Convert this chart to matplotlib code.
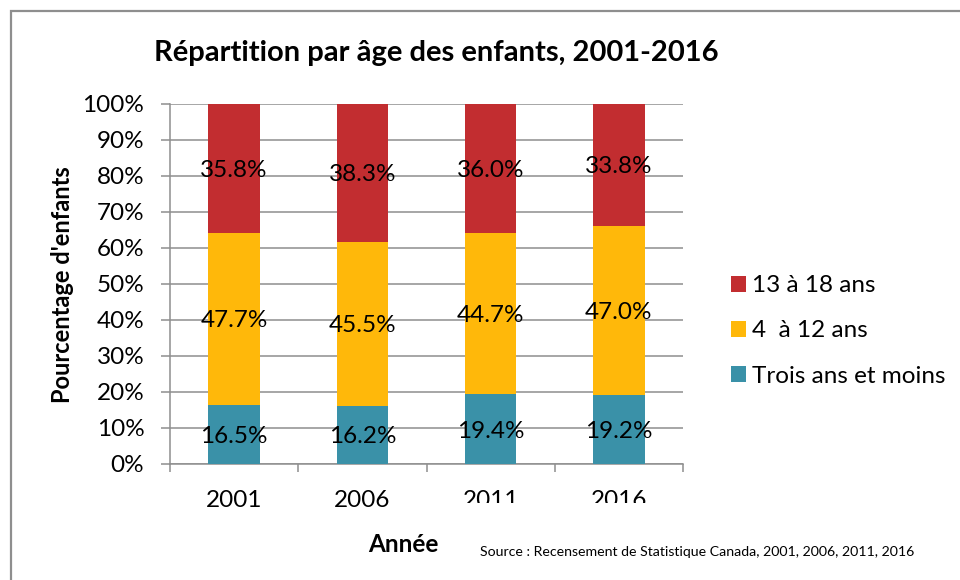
import matplotlib.pyplot as plt
from matplotlib.patches import Rectangle
from matplotlib.transforms import Bbox
import numpy as np

# Données
annees = ['2001', '2006', '2011', '2016']
trois_ans_moins = [16.5, 16.2, 19.4, 19.2]
quatre_douze = [47.7, 45.5, 44.7, 47.0]
treize_dixhuit = [35.8, 38.3, 36.0, 33.8]
ticks_y = [0, 10, 20, 30, 40, 50, 60, 70, 80, 90, 100]

couleurs = {'bleu': '#3A91A8', 'jaune': '#FFB80A', 'rouge': '#C22D30'}
gris = '#8E8E8E'

plt.rcParams['font.family'] = ['Lato', 'DejaVu Sans']

fig = plt.figure(figsize=(9.6, 5.8), dpi=100)
ax = fig.add_axes([170 / 960, 1 - 464 / 580, 513 / 960, 360 / 580])

x = np.arange(len(annees))
largeur = 0.4
bas1 = np.array(trois_ans_moins)
bas2 = bas1 + np.array(quatre_douze)

b1 = ax.bar(x, trois_ans_moins, largeur, color=couleurs['bleu'], zorder=3,
            label='Trois ans et moins')
b2 = ax.bar(x, quatre_douze, largeur, bottom=bas1, color=couleurs['jaune'],
            zorder=3, label='4  à 12 ans')
b3 = ax.bar(x, treize_dixhuit, largeur, bottom=bas2, color=couleurs['rouge'],
            zorder=3, label='13 à 18 ans')

# étiquettes de données au milieu de chaque segment
for bars in (b1, b2, b3):
    for rect in bars:
        h = rect.get_height()
        ax.text(rect.get_x() + rect.get_width() / 2, rect.get_y() + h / 2,
                f'{h:.1f}%', ha='center', va='center_baseline', fontsize=17.5,
                color='black', zorder=4)

ax.set_xlim(-0.5, len(annees) - 0.5)
ax.set_ylim(0, 100)
ax.set_yticks(ticks_y)
ax.set_yticklabels([f'{t}%' for t in ticks_y], fontsize=17.5)
ax.tick_params(axis='y', length=6.5, width=1.1, color=gris, pad=12)

ax.set_xticks(x)
ax.set_xticklabels(annees, fontsize=17.5)
ax.tick_params(axis='x', which='major', length=0, pad=19)
ax.set_xticks(np.arange(-0.5, len(annees)), minor=True)
ax.tick_params(axis='x', which='minor', length=6, width=1.1, color=gris)

ax.yaxis.grid(True, color=gris, linewidth=1.1, zorder=0)
ax.set_axisbelow(True)
for s in ['top', 'right']:
    ax.spines[s].set_visible(False)
for s in ['left', 'bottom']:
    ax.spines[s].set_color(gris)
    ax.spines[s].set_linewidth(1.1)

# les étiquettes 2011 et 2016 sont coupées en bas dans l'original
coupe = Bbox.from_extents(0, 1 - 503 / 580, 1, 1)
coupe_px = Bbox(fig.transFigure.transform(coupe.get_points()))
for lab in ax.get_xticklabels()[2:]:
    lab.set_clip_box(coupe_px)
    lab.set_clip_on(True)

handles = [b3, b2, b1]
fig.legend(handles, [h.get_label() for h in handles], loc='center left',
           bbox_to_anchor=(709 / 960, 1 - 331 / 580), frameon=False,
           fontsize=17.5, handlelength=0.62, handleheight=0.62,
           handletextpad=0.25, labelspacing=1.0)

fig.text(436 / 960, 1 - 53 / 580, 'Répartition par âge des enfants, 2001-2016',
         ha='center', va='center', fontsize=21, fontweight='bold')
fig.text(62 / 960, 1 - 285 / 580, "Pourcentage d'enfants", rotation=90,
         ha='center', va='center', fontsize=17, fontweight='bold')
fig.text(403 / 960, 1 - 544 / 580, 'Année', ha='center', va='center',
         fontsize=17.5, fontweight='bold')
fig.text(480 / 960, 1 - 552 / 580,
         'Source : Recensement de Statistique Canada, 2001, 2006, 2011, 2016',
         ha='left', va='center', fontsize=10.2)

# cadre gris du graphique
fig.patches.append(Rectangle((11 / 960, -0.1), 1.2, 1.1 - 11 / 580,
                             transform=fig.transFigure, fill=False,
                             edgecolor=gris, linewidth=1.6))

fig.savefig('out.png', dpi=100)
